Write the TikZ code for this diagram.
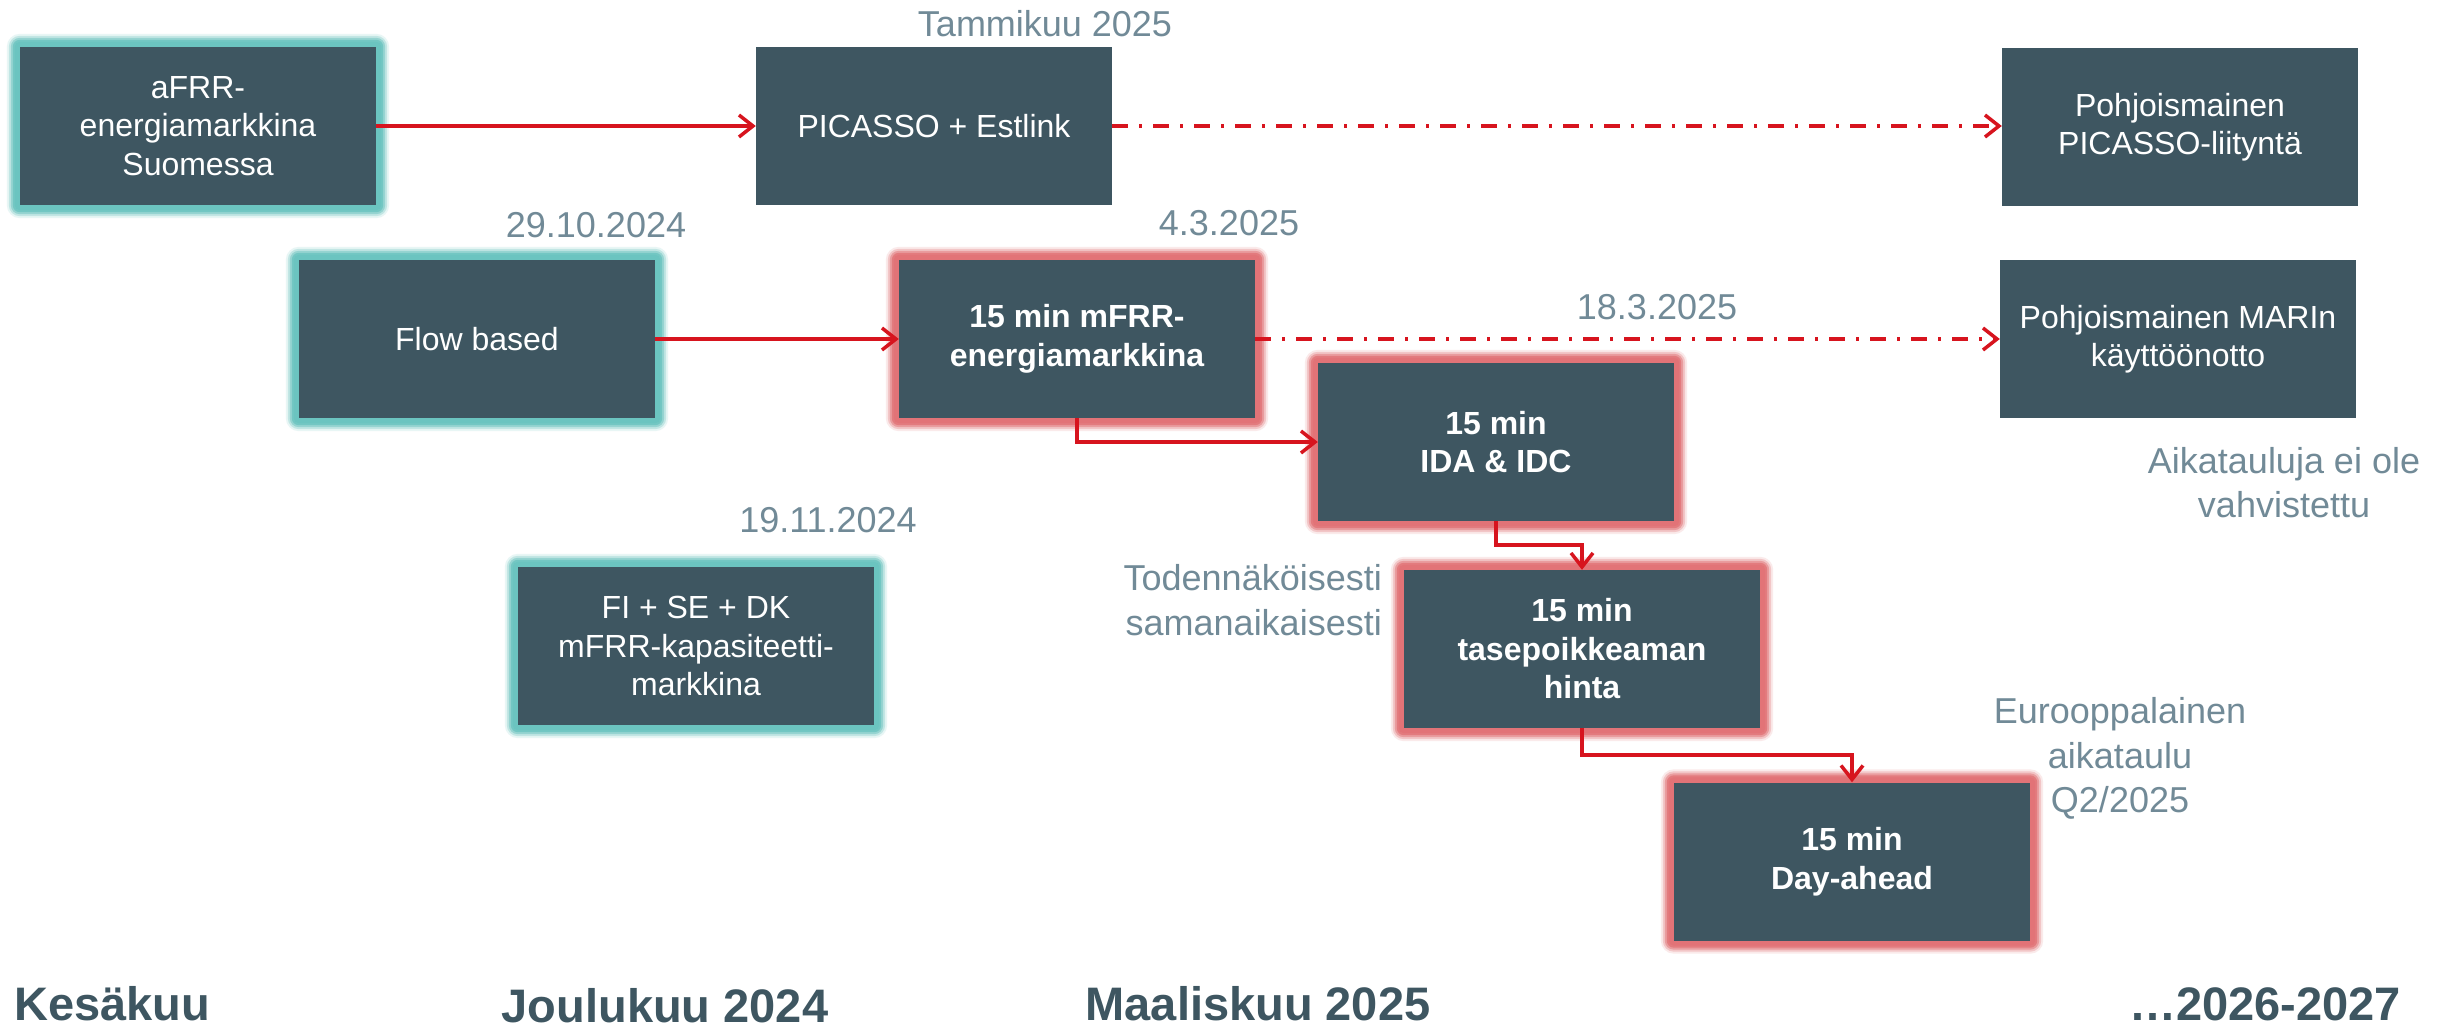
\documentclass[tikz,border=0pt]{standalone}
\usepackage{fontspec}
\setmainfont{Liberation Sans}
\usetikzlibrary{arrows.meta,backgrounds}
\definecolor{boxfill}{HTML}{3E5661}
\definecolor{tealglow}{HTML}{6BC4C0}
\definecolor{redglow}{HTML}{E27377}
\definecolor{arrowred}{HTML}{D7141E}
\definecolor{labelgray}{HTML}{718A97}
\newcommand\glowbox[2]{%
  \foreach \g/\o in {13/0.15,11/0.3,9/0.5,7/0.8,5/1}{%
    \fill[#2, opacity=\o, rounded corners=\g pt]
      ([shift={(-\g pt,\g pt)}]#1.north west) rectangle ([shift={(\g pt,-\g pt)}]#1.south east);
  }}
\tikzset{
  stagebox/.style={rectangle, fill=boxfill, minimum width=356pt, minimum height=158pt,
    inner sep=0pt, text=white, align=center, font=\fontsize{32}{38.5}\selectfont},
  keybox/.style={stagebox, font=\fontsize{32}{38.5}\selectfont\bfseries},
  datelabel/.style={inner sep=0pt, anchor=base, text=labelgray, font=\fontsize{36}{45}\selectfont},
  monthlabel/.style={inner sep=0pt, anchor=base, text=boxfill, font=\fontsize{47}{56}\selectfont\bfseries},
  solidlink/.style={draw=arrowred, line width=3.5pt, -{Straight Barb[length=14pt,width=22pt]}},
  plannedlink/.style={solidlink, dash pattern=on 16pt off 11pt on 3pt off 11pt},
}
\begin{document}
\begin{tikzpicture}[x=1pt,y=-1pt]
\useasboundingbox (0,0) rectangle (2443,1027);
% boxes
\node[stagebox] (afrr) at (198,126) {aFRR-\\energiamarkkina\\Suomessa};
\node[stagebox] (picasso) at (934,126) {PICASSO + Estlink};
\node[stagebox] (nordpicasso) at (2180,127) {Pohjoismainen\\PICASSO-liityntä};
\node[stagebox] (flowbased) at (477,339) {Flow based};
\node[keybox] (mfrr) at (1077,339) {15 min mFRR-\\energiamarkkina};
\node[stagebox] (marin) at (2178,339) {Pohjoismainen MARIn\\käyttöönotto};
\node[keybox] (ida) at (1496,442) {15 min\\IDA \& IDC};
\node[keybox] (imb) at (1582,649) {15 min\\tasepoikkeaman\\hinta};
\node[keybox] (dayahead) at (1852,861.5) {15 min\\Day-ahead};
\node[stagebox] (capacity) at (696,646) {FI + SE + DK\\mFRR-kapasiteetti-\\markkina};
% glows
\begin{pgfonlayer}{background}
  \fill[white] (0,0) rectangle (2443,1027);
  \glowbox{afrr}{tealglow}
  \glowbox{flowbased}{tealglow}
  \glowbox{capacity}{tealglow}
  \glowbox{mfrr}{redglow}
  \glowbox{ida}{redglow}
  \glowbox{imb}{redglow}
  \glowbox{dayahead}{redglow}
\end{pgfonlayer}
% connectors
\draw[solidlink] (afrr) -- (picasso);
\draw[plannedlink] (picasso.east) -- (picasso.east -| nordpicasso.west);
\draw[solidlink] (flowbased) -- (mfrr);
\draw[plannedlink] (mfrr.east) -- (mfrr.east -| marin.west);
\draw[solidlink] (mfrr.south) |- (ida.west);
\draw[solidlink] (ida.south) -- ++(0,24) -| (imb.north);
\draw[solidlink] (imb.south) -- ++(0,27) -| (dayahead.north);
% labels
\node[datelabel] (tammikuu) at (1045,37) {Tammikuu 2025};
\node[datelabel] (d2910) at (596,237) {29.10.2024};
\node[datelabel] (d0403) at (1229,236) {4.3.2025};
\node[datelabel] (d1803) at (1657,319) {18.3.2025};
\node[datelabel] (d1911) at (828,532) {19.11.2024};
\node[datelabel, anchor=base east] (tod1) at (1382,590) {Todennäköisesti};
\node[datelabel, anchor=base east] (tod2) at (1382,635) {samanaikaisesti};
\node[datelabel] (ait1) at (2284,473) {Aikatauluja ei ole};
\node[datelabel] (ait2) at (2284,517) {vahvistettu};
\node[datelabel] (eur1) at (2120,723) {Eurooppalainen};
\node[datelabel] (eur2) at (2120,768) {aikataulu};
\node[datelabel] (eur3) at (2120,812) {Q2/2025};
\node[monthlabel, anchor=base west] (kesa) at (14,1020) {Kesäkuu};
\node[monthlabel] (joulu) at (665,1022) {Joulukuu 2024};
\node[monthlabel] (maalis) at (1258,1020) {Maaliskuu 2025};
\node[monthlabel, anchor=base east] (future) at (2401,1020) {…2026-2027};
\end{tikzpicture}
\end{document}
